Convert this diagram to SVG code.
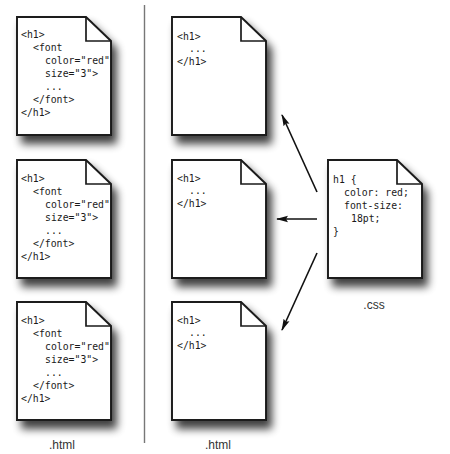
<svg xmlns="http://www.w3.org/2000/svg" width="450" height="454" viewBox="0 0 450 454">
<style>
.doc{fill:#fff;stroke:#1a1a1a;stroke-width:1.9;stroke-linejoin:miter}
.fold{fill:none;stroke:#1a1a1a;stroke-width:1.7}
.code{font-family:"DejaVu Sans Mono","Liberation Mono",monospace;font-size:9.8px;fill:#1a1a1a}
.lbl{font-family:"Liberation Sans",Arial,sans-serif;font-size:12px;fill:#333;text-anchor:middle}
.arr{stroke:#111;stroke-width:1.6;fill:none;marker-end:url(#ah)}
</style>
<defs>
<filter id="sh" x="-20%" y="-20%" width="150%" height="150%">
<feGaussianBlur in="SourceAlpha" stdDeviation="4.5"/>
<feOffset dx="5" dy="8" result="b"/>
<feComponentTransfer><feFuncA type="linear" slope="0.75"/></feComponentTransfer>
<feMerge><feMergeNode/><feMergeNode in="SourceGraphic"/></feMerge>
</filter>
<marker id="ah" viewBox="0 0 12 8" refX="11" refY="4" markerWidth="12" markerHeight="8" markerUnits="userSpaceOnUse" orient="auto">
<path d="M0,0.8 L12,4 L0,7.2 L2,4 Z" fill="#111"/>
</marker>
<path id="docshape" d="M0,0 H69 L94,24 V118 H0 Z"/>
</defs>
<rect width="450" height="454" fill="#fff"/>
<line x1="144.5" y1="5" x2="144.5" y2="443" stroke="#777" stroke-width="1.4"/>

<g id="html-font-1" transform="translate(17,17)">
<use href="#docshape" class="doc" filter="url(#sh)"/>
<path class="fold" d="M69,0 V24 H94"/>
<text class="code"><tspan x="4" y="21">&lt;h1&gt;</tspan><tspan x="16" y="34">&lt;font</tspan><tspan x="28" y="47">color="red"</tspan><tspan x="28" y="60">size="3"&gt;</tspan><tspan x="28" y="73">...</tspan><tspan x="16" y="86">&lt;/font&gt;</tspan><tspan x="4" y="99">&lt;/h1&gt;</tspan></text>
</g>
<g id="html-font-2" transform="translate(17,160)">
<use href="#docshape" class="doc" filter="url(#sh)"/>
<path class="fold" d="M69,0 V24 H94"/>
<text class="code"><tspan x="4" y="22">&lt;h1&gt;</tspan><tspan x="16" y="35">&lt;font</tspan><tspan x="28" y="48">color="red"</tspan><tspan x="28" y="61">size="3"&gt;</tspan><tspan x="28" y="74">...</tspan><tspan x="16" y="87">&lt;/font&gt;</tspan><tspan x="4" y="100">&lt;/h1&gt;</tspan></text>
</g>
<g id="html-font-3" transform="translate(17,302)">
<use href="#docshape" class="doc" filter="url(#sh)"/>
<path class="fold" d="M69,0 V24 H94"/>
<text class="code"><tspan x="4" y="22">&lt;h1&gt;</tspan><tspan x="16" y="35">&lt;font</tspan><tspan x="28" y="48">color="red"</tspan><tspan x="28" y="61">size="3"&gt;</tspan><tspan x="28" y="74">...</tspan><tspan x="16" y="87">&lt;/font&gt;</tspan><tspan x="4" y="100">&lt;/h1&gt;</tspan></text>
</g>

<g id="html-plain-1" transform="translate(172,17)">
<use href="#docshape" class="doc" filter="url(#sh)"/>
<path class="fold" d="M69,0 V24 H94"/>
<text class="code" font-size="9.2"><tspan x="5" y="23">&lt;h1&gt;</tspan><tspan x="17" y="35">...</tspan><tspan x="5" y="48">&lt;/h1&gt;</tspan></text>
</g>
<g id="html-plain-2" transform="translate(172,160)">
<use href="#docshape" class="doc" filter="url(#sh)"/>
<path class="fold" d="M69,0 V24 H94"/>
<text class="code" font-size="9.2"><tspan x="5" y="22">&lt;h1&gt;</tspan><tspan x="17" y="34">...</tspan><tspan x="5" y="47">&lt;/h1&gt;</tspan></text>
</g>
<g id="html-plain-3" transform="translate(172,302)">
<use href="#docshape" class="doc" filter="url(#sh)"/>
<path class="fold" d="M69,0 V24 H94"/>
<text class="code" font-size="9.2"><tspan x="5" y="22">&lt;h1&gt;</tspan><tspan x="17" y="34">...</tspan><tspan x="5" y="47">&lt;/h1&gt;</tspan></text>
</g>

<g id="css" transform="translate(328,160)">
<use href="#docshape" class="doc" filter="url(#sh)"/>
<path class="fold" d="M69,0 V24 H94"/>
<text class="code"><tspan x="5" y="23">h1 {</tspan><tspan x="16" y="36">color: red;</tspan><tspan x="16" y="49">font-size:</tspan><tspan x="23" y="62">18pt;</tspan><tspan x="5" y="75">}</tspan></text>
</g>

<g id="labels">
<text class="lbl" x="62" y="449">.html</text>
<text class="lbl" x="218" y="449">.html</text>
<text class="lbl" x="374" y="309" font-size="11">.css</text>
</g>

<g id="connectors">
<line class="arr" x1="317" y1="192" x2="282" y2="115"/>
<line class="arr" x1="317" y1="219" x2="277" y2="219"/>
<line class="arr" x1="317" y1="253" x2="282" y2="330"/>
</g>
</svg>
